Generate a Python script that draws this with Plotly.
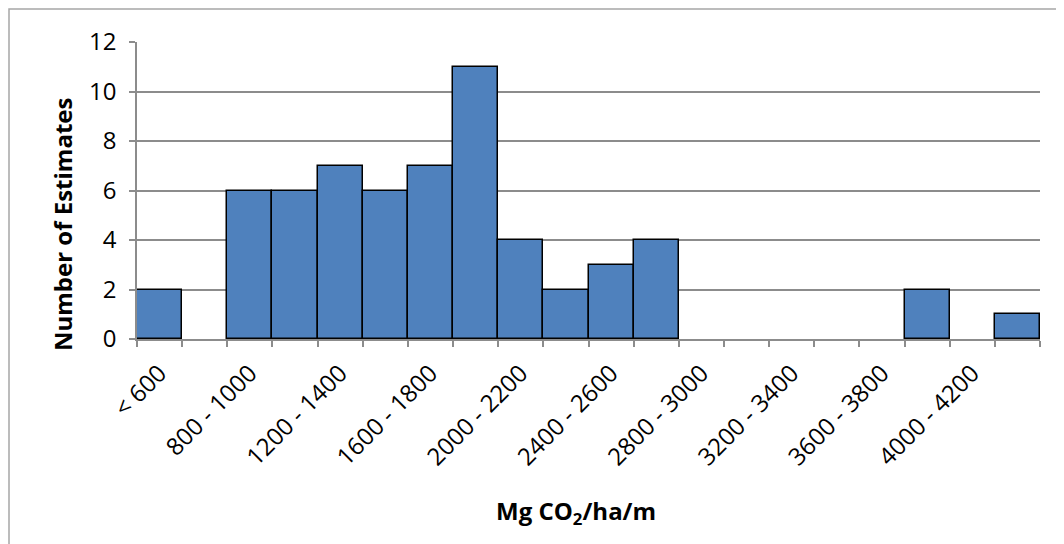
import plotly.graph_objects as go

# histogram bins (Mg CO2/ha/m) and counts
bins = ["< 600", "600 - 800", "800 - 1000", "1000 - 1200", "1200 - 1400",
        "1400 - 1600", "1600 - 1800", "1800 - 2000", "2000 - 2200", "2200 - 2400",
        "2400 - 2600", "2600 - 2800", "2800 - 3000", "3000 - 3200", "3200 - 3400",
        "3400 - 3600", "3600 - 3800", "3800 - 4000", "4000 - 4200", "4200 - 4400"]
counts = [2, 0, 6, 6, 7, 6, 7, 11, 4, 2, 3, 4, 0, 0, 0, 0, 0, 2, 0, 1]
# Excel only labels every other bin
shown_labels = [b if i % 2 == 0 else "" for i, b in enumerate(bins)]

# the page body has an 8px margin, so the figure is laid out 8px in from the corner
OFF = 8
W, H = 1064 - OFF, 544 - OFF
L, R, T, B = 137 - OFF, 24, 42 - OFF, 205
pw, ph = W - L - R, H - T - B


def px(x):
    # screenshot pixel -> paper coordinate
    return (x - OFF - L) / pw


def py(y):
    return (H - B - (y - OFF)) / ph


font_family = "Open Sans, Noto Sans, sans-serif"
grid_color = "#8c8c8c"

fig = go.Figure()
fig.add_trace(go.Bar(
    x=bins, y=[c if c else None for c in counts],
    marker=dict(color="#4f81bd", line=dict(color="black", width=1.5)),
))

fig.update_layout(
    width=W, height=H,
    margin=dict(l=L, r=R, t=T, b=B, autoexpand=False),
    paper_bgcolor="white", plot_bgcolor="white",
    bargap=0, showlegend=False,
    font=dict(family=font_family, size=24, color="black"),
)
fig.update_xaxes(
    type="category", tickmode="array", tickvals=bins, ticktext=shown_labels,
    tickson="boundaries", ticks="outside", ticklen=6, tickcolor=grid_color,
    tickwidth=1.5, tickangle=-45, showline=True, linecolor=grid_color,
    linewidth=1.5, showgrid=False, ticklabelstandoff=9,
    tickfont=dict(size=24), automargin=False,
)
fig.update_yaxes(
    range=[0, 12], dtick=2, ticks="outside", ticklen=6, tickcolor=grid_color,
    tickwidth=1.5, showline=True, linecolor=grid_color, linewidth=1.5,
    showgrid=True, gridcolor=grid_color, gridwidth=1.5, zeroline=False,
    ticklabelstandoff=8, tickfont=dict(size=24), automargin=False,
)

fig.add_annotation(
    text="<b>Number of Estimates</b>", textangle=-90,
    xref="paper", yref="paper", x=px(62), y=py(224),
    xanchor="center", yanchor="middle",
    showarrow=False, font=dict(size=24),
)
fig.add_annotation(
    text="<b>Mg CO<sub>2</sub>/ha/m</b>",
    xref="paper", yref="paper", x=px(576), y=py(512),
    xanchor="center", yanchor="middle",
    showarrow=False, font=dict(size=24),
)

# outer chart border
fig.add_shape(
    type="rect", xref="paper", yref="paper",
    x0=px(9), x1=px(1080), y0=py(560), y1=py(9),
    line=dict(color="#a6a6a6", width=1.5), layer="below",
)

fig.write_html("out.html")
